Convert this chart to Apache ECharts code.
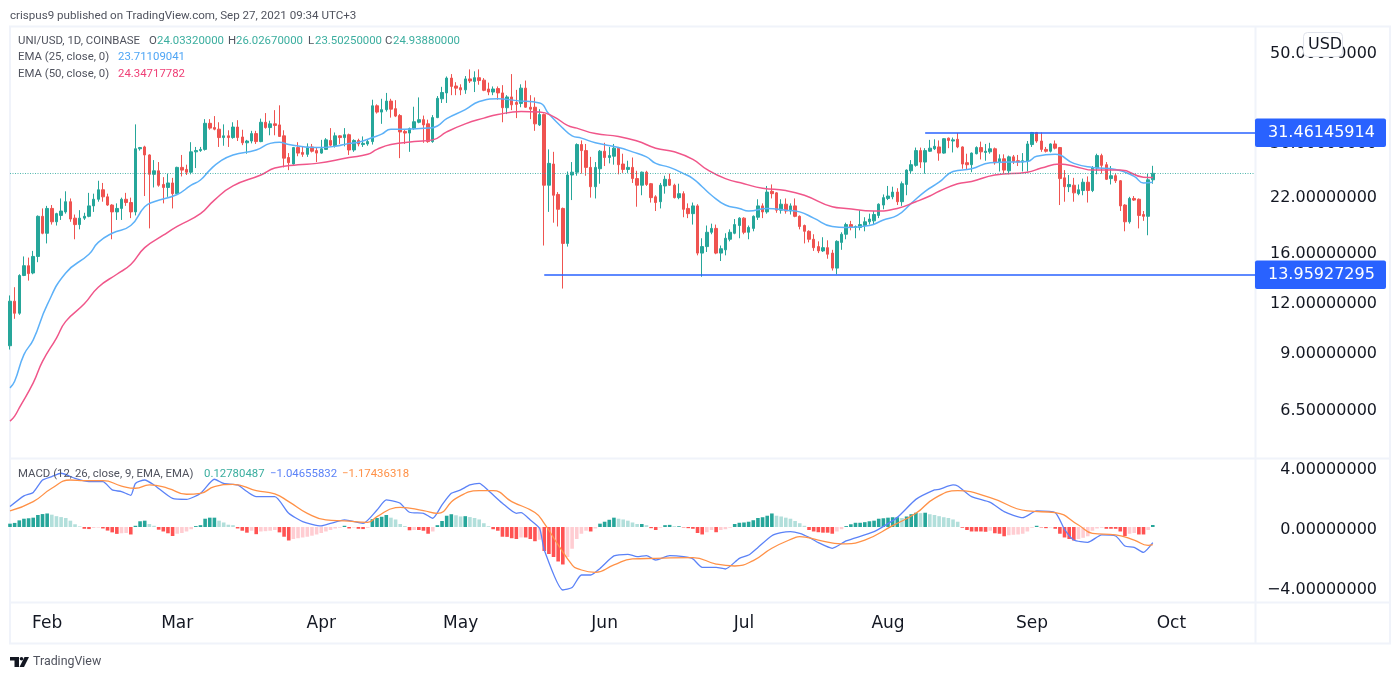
<!DOCTYPE html>
<html><head><meta charset="utf-8">
<style>html,body{margin:0;padding:0;background:#fff}#c{width:1400px;height:679px}</style>
<script src="https://cdn.jsdelivr.net/npm/echarts@6/dist/echarts.min.js"></script>
</head><body><div id="c"></div>
<script>
const opens=[
9.3,12.0,11.2,13.9,14.7,14.1,15.5,19.5,17.7,20.4,
18.9,19.6,20.0,21.2,19.3,18.6,19.3,19.5,20.7,21.5,
22.7,21.8,20.8,20.0,20.4,21.5,21.1,20.0,28.7,29.0,
27.7,24.8,25.3,23.4,23.0,23.6,22.2,25.8,25.5,25.1,
28.2,28.4,28.6,33.2,32.4,32.1,30.6,30.9,30.6,32.5,
30.7,29.7,30.0,31.3,29.9,33.4,32.4,33.1,32.9,30.9,
27.3,26.3,28.9,28.1,27.8,29.0,28.4,28.0,28.6,30.1,
29.2,30.9,30.6,31.1,28.5,30.1,29.4,29.5,29.9,36.7,
35.4,35.9,37.7,36.1,34.7,31.7,31.4,32.2,33.4,33.9,
33.1,29.9,34.3,38.2,39.5,43,41.1,40.7,40.2,42.8,
42.2,43.1,42.5,40.4,39.7,40.5,39.5,36.3,38.6,37.4,
37.2,40.6,36.4,36.4,32.9,34.9,23.3,26.3,22.1,20.4,
16.7,24.7,25.1,29.4,28.4,25.8,23.1,25.6,28.3,27.3,
27.5,28.8,26.3,25.5,25.8,24.2,23.3,25.1,23.5,21.8,
21.2,23.2,24.1,23.3,21.7,22.2,20.4,19.8,20.7,15.8,
16.4,17.8,18.2,15.8,16.1,17.1,17.7,18.5,19.3,17.8,
18.2,19.4,20.7,20.0,22.5,22.3,20.2,20.9,20.1,20.7,
19.5,18.5,17.9,17.1,16.4,16.0,16.3,15.8,14.5,16.8,
17.6,18.6,18.3,18.3,18.5,18.9,19,19.6,20.8,21.6,
21.8,22.4,21.2,23.4,25.3,26.1,28.4,26.6,28.3,28.7,
29,28,30.5,30.0,30.3,29,26.5,26.2,27.9,28.9,
28.1,28.2,28.7,26.5,27.1,25.3,27.4,26.8,26.6,26.7,
29.4,31.5,30,28.6,28.3,29.5,28.9,24.3,23.1,23.3,
22.2,22.6,23.7,22.6,25.7,27.6,26.2,24.2,24.6,23.9,
20.8,18.9,21.6,21.5,19.7,19.5,24.03];
const closes=[
12.0,11.2,13.9,14.7,14.05,15.5,19.5,17.7,20.4,18.9,
19.8,20.1,21.2,19.2,18.6,19.3,19.5,20.7,21.5,22.7,
21.8,20.8,20.0,20.4,21.5,21.1,20.0,28.7,28.9,27.7,
24.8,25.3,23.3,23.0,23.6,22.2,25.8,25.4,25.1,28.2,
28.4,28.6,33.2,32.3,32.1,30.6,30.9,30.6,32.5,30.6,
29.7,30.0,31.3,29.9,33.4,32.4,33.1,32.8,30.8,27.2,
26.5,28.9,28.0,27.8,29.0,28.3,28.0,28.7,30.2,29.3,
30.9,30.6,31.1,28.5,30.1,29.5,29.6,29.9,36.7,35.4,
35.9,37.7,36,34.6,31.6,31.4,32.2,33.5,33.9,32.9,
29.9,34.3,38.3,39.6,43,41,40.6,40.2,42.8,42.3,
43.1,42.4,40.1,39.7,40.4,39.5,36.3,38.6,36.9,37,
40.6,36.4,36,33.1,34.9,23.3,26.4,22,20.3,16.7,
24.7,25.1,29.4,28.4,25.8,23.1,25.8,28.3,27.3,27.6,
28.8,26.2,25.5,25.8,24.2,23.3,25.1,23.4,21.7,21.1,
23.3,24.1,23.3,21.7,22.2,20.3,19.8,20.7,15.8,16.4,
17.8,18.2,15.8,16.2,17.2,17.8,18.6,19.3,17.8,18.3,
19.5,20.7,20,22.4,22.2,20.2,20.9,20.1,20.7,19.5,
18.4,17.9,17.1,16.3,16,16.3,15.7,14.5,16.9,17.6,
18.6,18.3,18.4,18.6,18.9,19.2,19.7,20.9,21.7,21.9,
22.4,21.2,23.5,25.4,26.2,28.4,26.6,28.4,28.8,29.1,
28,30.4,30.1,30.2,29,26.3,26.2,28,28.9,28.2,
28.3,28.7,26.5,27.1,25.4,27.4,26.7,26.6,26.8,29.5,
31.5,30,28.6,28.3,29.5,28.8,24.2,23.1,23.4,22.3,
22.7,23.7,22.6,25.7,27.6,26.1,24.1,24.6,23.9,20.7,
18.9,21.6,21.4,19.6,19.5,24.03,24.94];
const lows=[
9.1,10.85,11.1,13.85,13.5,14.0,15.0,17.6,16.7,18.6,
18.5,19.1,19.8,18.9,17.1,18.1,19.1,19.4,20.0,21.2,
21.2,20.7,17.1,19.1,19.1,20.7,19.3,19.6,28.4,21.9,
18.2,23.0,23.1,21.0,21.8,20.4,22.1,24.5,24.7,24.8,
25.7,28.2,28.4,32.0,31.9,29.0,29.2,29,30.4,30,
29.3,27.9,29.6,29.5,29.8,32.2,31,31,30.7,25.8,
25.4,26.2,27.5,27.4,27.4,28.1,26.6,27.9,28.5,29.1,
28.9,29.5,29.1,27.7,28.2,29.1,29,29.2,29.4,35.1,
33.1,35.5,34.3,34.4,27.2,29.5,28.2,32,33.2,29.7,
29.7,29.7,34.2,37.3,37.3,39,39,39,39.3,41.8,
39.7,41.4,39.9,39,39,38,33.4,35,35.8,34.2,
36.4,36.3,34,31.8,32.7,16.5,20,18.8,18.4,12.9,
16.4,21.4,24.6,24.9,24.6,21.7,21.6,23.5,26,26.4,
26.2,24.8,25,25,23.6,20.6,22,23.2,21.1,20.1,
20.4,22.2,23.2,21.6,21.5,19.4,19.3,18.6,15.6,13.8,
15.9,17.6,15.7,15.1,15.6,16.9,17.6,17.2,17.6,17.1,
17.9,19.1,19.3,19.8,21.6,19.9,19.8,19.8,19.7,19.4,
18.1,16.7,16.8,16,15.8,15.9,15.3,14.3,14,16.1,
17.1,18,17.2,18,17.9,18.6,18.6,19.3,20.3,21.4,
21.5,20.8,20.7,22,24.9,25.9,25.7,24.9,28.2,28.5,
26.8,27.9,28.8,28.1,28.8,25.6,25.5,25.1,27.8,27,
26.8,27.9,26.2,25.2,24.9,24.8,26.3,26,25.2,25.2,
29,29.7,28.2,28.1,28.1,28.6,20.8,21.2,22.4,21.2,
22,22,21.1,22.4,24.8,24.9,24,23.4,23.6,20.1,
17.9,18.7,21.3,18.2,19,17.5,23.5];
const highs=[
12.4,13,14,15.5,15.4,16,19.6,20.4,20.7,20.8,
19.9,21.6,22.5,21.6,19.7,20.2,19.9,22.3,22.2,23.9,
23.6,22.2,20.9,21,21.7,22.3,21.7,33,29,29.2,
27.8,26.9,26.6,24.4,24.9,24.3,25.9,27.7,26.2,29.8,
29,29,34,34,34.6,33.4,33,31.9,33.4,33.8,
32,30.2,31.8,31.8,34.1,35.2,33.7,35.8,36.8,31.9,
28,29,29.8,29.1,29.6,29.5,28.9,30.2,30.5,32.3,
31.5,31,32.3,31.3,30.3,30.4,30.8,30.2,38,37,
38.2,39.5,38.2,37.9,35,32,32.4,36.5,38.5,34.7,
33.9,34.8,38.8,40.9,43.4,44,42,41.5,43.5,45.2,
44.7,45.2,43,41.9,41,41,41.3,39,44,40.2,
41.5,42.4,39,38.5,36,35.1,28.6,28.2,22.4,20.5,
25.2,26.6,29.6,30.1,29.5,27.4,26.6,28.5,29.7,29,
29.5,29,27.9,26.8,27.3,25.3,25.2,25.3,23.6,22,
23.6,24.6,24.9,23.5,23.5,22.5,21,21.1,20.9,17.2,
18.5,18.7,18.6,16.5,17.7,18.1,19.2,19.4,19.4,18.5,
19.6,21.5,21,23.2,23.4,22.4,21.5,21.6,21,21.6,
19.6,18.6,18,17.6,16.9,17.3,17,16.1,17,17.8,
18.8,19,18.5,20.2,19.4,19.8,20.1,21,22.1,23.2,
23.1,22.9,23.8,25.5,26.9,28.9,28.9,28.8,30.2,30.3,
30.1,30.5,30.6,30.6,31.4,29.1,27.9,28.1,29.1,29.9,
29.5,29.7,28.9,27.8,27.8,27.6,27.7,27.7,28,30,
31.6,31.6,31.5,29,29.6,30.1,29,25.4,24.7,24.3,
23.4,24.2,24.5,26,27.9,27.9,26.6,26,24.9,24,
20.9,21.8,21.9,21.6,20.1,24.9,26.03];
const histogram=[
.22,.27,.44,.55,.58,.62,.8,.86,.9,.82,
.72,.66,.6,.42,.18,.04,-.12,-.14,-.06,-.04,
-.1,-.24,-.36,-.46,-.42,-.4,-.5,.08,.38,.42,
.2,.08,-.18,-.3,-.42,-.6,-.45,-.4,-.3,-.15,
.06,.12,.55,.62,.62,.42,.3,.15,.12,-.1,
-.25,-.38,-.25,-.48,-.3,-.28,-.25,-.2,-.36,-.65,
-.9,-.8,-.75,-.7,-.65,-.58,-.5,-.4,-.3,-.2,
-.1,-.05,.08,-.1,-.04,-.12,-.14,-.06,.52,.6,
.68,.8,.62,.5,.2,.06,-.22,-.2,-.2,-.25,
-.45,-.3,.12,.4,.75,.85,.78,.7,.72,.66,
.6,.5,.25,.05,-.15,-.25,-.65,-.66,-.75,-.8,
-.7,-.7,-.8,-.95,-.85,-1.6,-1.8,-2.0,-2.3,-2.5,
-2.0,-1.45,-.8,-.45,-.25,-.3,-.1,.22,.35,.48,
.62,.55,.5,.42,.3,.2,.2,.12,-.08,-.2,
-.05,.12,.14,.05,.05,-.03,-.08,-.12,-.4,-.5,
-.35,-.2,-.35,-.2,-.15,-.05,.2,.28,.3,.35,
.45,.6,.65,.75,.9,.75,.7,.62,.55,.4,
.25,.08,-.2,-.3,-.35,-.38,-.38,-.45,-.3,-.15,
.06,.18,.28,.28,.32,.38,.42,.55,.58,.62,
.65,.65,.6,.7,.85,.95,.92,.95,.85,.8,
.72,.65,.6,.5,.35,-.05,-.2,-.3,-.3,-.3,
-.32,-.25,-.42,-.45,-.62,-.55,-.52,-.5,-.45,-.3,
-.05,.08,-.03,-.08,-.03,-.12,-.45,-.7,-.8,-.9,
-.8,-.72,-.62,-.25,-.1,-.05,-.12,-.12,-.12,-.3,
-.6,-.45,-.4,-.5,-.5,-.2,.13];

const ema25Days=[0,1,3,5,8,12,17,19,22,26,29,31,36,39,41,43,45,48,53,56,58,60,66,70,73,75,78,80,82,85,90,92,94,98,101,105,109,114,116,119,121,123,126,131,134,137,139,142,145,147,149,151,154,157,159,163,167,170,173,177,180,185,188,191,194,197,200,203,207,211,219,221,225,229,233,238,242,244,246];
const ema25Values=[7.31,7.59,8.84,9.62,11.75,14.1,15.7,16.8,17.7,18.5,20.6,21.2,22.1,23.3,24,25.4,26.6,27.7,28.5,29.6,29.8,29.4,28.9,29.1,29.6,29.8,30.6,31.2,32.1,32.1,32.3,32.7,34.1,35.9,37.6,38.2,37.8,37.3,35,32.3,30.9,30.5,29.7,28.9,28.2,27.4,26.4,25.8,24.9,24.2,23.1,22,20.8,20.4,20.1,20.4,20.2,20,19.3,18.4,18.3,18.5,19.1,19.6,21,22.5,23.7,25.2,25.6,26.5,26.7,27.5,27.8,26.4,25.8,25.5,24.5,23.6,23.71];
const ema50Days=[0,1,2,5,7,10,12,16,19,23,26,29,33,36,41,44,48,54,57,62,66,73,77,79,82,87,91,94,98,102,105,110,114,117,120,122,126,131,135,139,143,147,150,154,158,162,167,171,177,180,186,191,195,198,200,204,207,212,219,222,226,230,233,239,244,246];
const ema50Values=[6.04,6.22,6.52,7.52,8.5,9.72,10.69,11.82,13,14,14.8,16.3,17.5,18.4,19.8,21.4,23.2,24.7,25.7,26.2,26.4,27.3,27.8,28.6,29.4,29.9,30.2,31.6,33.1,34.2,34.9,35.5,35.4,34.5,32.8,32.3,31.3,30.8,30,28.8,28.2,27,25.5,24.2,23.5,22.9,22.6,22,20.6,20.4,20.1,20.4,21.2,21.9,22.5,23.5,23.8,24.7,25.1,25.7,26.3,25.8,25.4,25.4,24.4,24.35];
const macdDays=[0,3,5,7,9,11,14,17,20,22,24,26,27,29,31,35,38,41,44,46,49,51,53,57,60,63,67,69,72,76,79,81,83,84,86,89,91,93,95,97,99,101,103,106,109,110,112,114,115,119,121,123,125,127,130,133,135,137,139,142,145,147,149,152,154,157,159,161,164,166,168,170,172,174,177,180,186,191,195,199,200,203,204,207,211,214,218,221,225,227,229,232,235,238,240,242,244,246];
const macdValues=[1.36,2.07,2.3,3.13,3.36,3.58,3.24,3.02,3.02,2.47,2.36,2.11,2.9,3.13,2.8,1.9,1.84,2.24,3.18,2.9,2.8,2.36,2.02,2.02,.91,.36,.07,.24,.47,.24,1.13,1.8,1.69,1.58,.98,.91,.58,1.47,2.24,2.47,2.8,2.91,2.42,1.58,.91,.96,.47,-.09,-1.53,-4.2,-4.04,-3.2,-3.2,-2.76,-1.93,-1.82,-1.98,-1.91,-2.2,-1.91,-1.98,-2.13,-2.69,-2.69,-2.8,-2.09,-1.87,-1.36,-.58,-.38,-.31,-.42,-.69,-1.04,-1.42,-.93,-.31,.64,1.84,2.47,2.51,2.8,2.73,2.02,1.64,1.02,.62,1.07,.96,-.16,-.87,-1.02,-.53,-.6,-1.27,-1.36,-1.69,-1.05];
const signalDays=[0,5,9,13,16,20,24,27,30,34,38,41,44,48,53,57,60,64,68,72,77,79,83,84,89,92,96,101,104,108,113,115,118,121,122,126,130,134,139,147,152,156,160,164,169,170,174,179,184,190,195,199,204,211,219,225,230,233,238,242,245,246];
const signalValues=[1.07,1.69,2.58,3.13,3.09,3.09,2.73,2.58,2.8,2.58,2.18,2.24,2.69,2.84,2.42,2.2,1.69,.91,.47,.4,.31,.69,1.29,1.31,1.09,.91,1.91,2.42,2.42,1.69,.96,.24,-1.2,-2.53,-2.76,-3.02,-2.53,-2.13,-2.09,-2.04,-2.47,-2.6,-2.24,-1.42,-.71,-.64,-.87,-1.13,-.87,.09,.91,1.91,2.42,1.96,1.07,.96,.13,-.42,-.53,-.87,-1.22,-1.17];

const monthStarts={'2021-02-01':'Feb','2021-03-01':'Mar','2021-04-01':'Apr','2021-05-01':'May','2021-06-01':'Jun','2021-07-01':'Jul','2021-08-01':'Aug','2021-09-01':'Sep','2021-10-01':'Oct'};
const priceTicks=[6.5,9,12,16,22,30,50];
const macdTicks=[-4,0,4];
const resistance=31.46145914, support=13.95927295, lastClose=24.9388;
const resistanceStart=197, supportStart=115;

const dayCount=269;
const days=[];
for(let i=0;i<dayCount;i++){
  const d=new Date(Date.UTC(2021,0,24+i));
  days.push(d.toISOString().slice(0,10));
}
const candleData=opens.map((o,i)=>[o,closes[i],lows[i],highs[i]]);
const pairs=(xs,ys)=>xs.map((x,i)=>[x,ys[i]]);
const UP='#26a69a',DOWN='#ef5350',TAG='#2962ff',INK='#131722',FRAME='#f0f3fa';
const SANS='"DejaVu Sans"',UI='Roboto';
const hColor=(i)=>{
  const v=histogram[i],p=i?histogram[i-1]:0;
  if(v>=0) return v>=p?'#26a69a':'#b2dfdb';
  return v<=p?'#ff5252':'#ffcdd2';
};
const tag=(v)=>({yAxis:v,
  lineStyle:{color:TAG,width:1.6,type:'solid'},
  label:{show:true,position:'end',distance:0,formatter:v.toFixed(8),color:'#fff',fontFamily:SANS,fontSize:16,
    backgroundColor:TAG,borderRadius:2,padding:[1,10,0,13],lineHeight:27.5,width:108,align:'left'}});
const FONT='11.4px '+UI;
const lab=(x,y,text,fill)=>({type:'text',left:x,top:y,z:20,silent:true,style:{text,font:FONT,fill}});
const DIM='#50535e',GRN='#3bae9f';
const lineBox=(x1,y1,x2,y2)=>({type:'line',z:1,silent:true,shape:{x1,y1,x2,y2},style:{stroke:FRAME,lineWidth:2}});

const chart=echarts.init(document.getElementById('c'),null,{renderer:'canvas'});
chart.setOption({
  animation:false,
  backgroundColor:'#fff',
  grid:[{left:10,right:145,top:27,height:431},{left:10,right:145,top:459,height:143}],
  xAxis:[
    {type:'category',gridIndex:0,data:days,boundaryGap:false,axisLine:{show:false},axisTick:{show:false},axisLabel:{show:false},splitLine:{show:false}},
    {type:'category',gridIndex:1,data:days,boundaryGap:false,axisLine:{show:false},axisTick:{show:false},splitLine:{show:false},
      axisLabel:{show:true,interval:(i,v)=>!!monthStarts[v],formatter:(v)=>monthStarts[v]||'',color:INK,fontFamily:SANS,fontSize:17,margin:13,hideOverlap:false}}
  ],
  yAxis:[
    {type:'log',logBase:Math.E,gridIndex:0,position:'right',min:4.893,max:57.6,axisLine:{show:false},axisTick:{show:false},splitLine:{show:false},
      axisLabel:{show:true,customValues:priceTicks,formatter:(v)=>Number(v).toFixed(8),color:INK,fontFamily:SANS,fontSize:16,margin:122,align:'right',verticalAlign:'top',lineHeight:5}},
    {type:'value',gridIndex:1,position:'right',min:-5,max:4.53,axisLine:{show:false},axisTick:{show:false},splitLine:{show:false},
      axisLabel:{show:true,customValues:macdTicks,formatter:(v)=>Number(v).toFixed(8).replace('-','\u2212'),color:INK,fontFamily:SANS,fontSize:16,margin:122,align:'right',verticalAlign:'top',lineHeight:5}}
  ],
  series:[
    {type:'candlestick',name:'UNI/USD',xAxisIndex:0,yAxisIndex:0,data:candleData,barWidth:3,z:3,
      itemStyle:{color:UP,color0:DOWN,borderColor:UP,borderColor0:DOWN,borderWidth:1},
      markLine:{silent:true,symbol:'none',animation:false,z:6,precision:8,
        data:[
          [{xAxis:0,yAxis:lastClose,lineStyle:{color:UP,width:1,type:[1,1.5],opacity:.8},label:{show:false}},{xAxis:dayCount-1,yAxis:lastClose}],
          [{xAxis:resistanceStart,...tag(resistance)},{xAxis:dayCount-1,yAxis:resistance}],
          [{xAxis:supportStart,...tag(support)},{xAxis:dayCount-1,yAxis:support}]
        ]}},
    {type:'line',name:'EMA 25',xAxisIndex:0,yAxisIndex:0,data:pairs(ema25Days,ema25Values),showSymbol:false,smooth:.5,lineStyle:{color:'#5db1f8',width:1.5},z:4},
    {type:'line',name:'EMA 50',xAxisIndex:0,yAxisIndex:0,data:pairs(ema50Days,ema50Values),showSymbol:false,smooth:.5,lineStyle:{color:'#f0568a',width:1.5},z:4},
    {type:'bar',name:'Histogram',xAxisIndex:1,yAxisIndex:1,barWidth:3.6,z:2,
      data:histogram.map((v,i)=>({value:v,itemStyle:{color:hColor(i)}}))},
    {type:'line',name:'MACD',xAxisIndex:1,yAxisIndex:1,data:pairs(macdDays,macdValues),showSymbol:false,smooth:.2,lineStyle:{color:'#5b82f7',width:1.3},z:4},
    {type:'line',name:'Signal',xAxisIndex:1,yAxisIndex:1,data:pairs(signalDays,signalValues),showSymbol:false,smooth:.5,lineStyle:{color:'#ff9147',width:1.3},z:5}
  ],
  graphic:[
    {type:'rect',z:1,silent:true,shape:{x:10,y:26.5,width:1380,height:617},style:{fill:'none',stroke:FRAME,lineWidth:2}},
    lineBox(1255.5,27,1255.5,644),
    lineBox(10,458.5,1390,458.5),
    lineBox(10,602.5,1390,602.5),
    {type:'text',left:10,top:10,z:20,silent:true,style:{text:'crispus9 published on TradingView.com, Sep 27, 2021 09:34 UTC+3',font:'11.6px '+UI,fill:DIM}},
    lab(18,35.5,'UNI/USD, 1D, COINBASE',DIM),
    lab(149,35.5,'O',DIM),lab(157,35.5,'24.03320000',GRN),
    lab(228,35.5,'H',DIM),lab(236,35.5,'26.02670000',GRN),
    lab(308,35.5,'L',DIM),lab(315,35.5,'23.50250000',GRN),
    lab(385,35.5,'C',DIM),lab(393,35.5,'24.93880000',GRN),
    lab(18,52,'EMA (25, close, 0)',DIM),lab(118,52,'23.71109041','#4ea5f5'),
    lab(18,68.5,'EMA (50, close, 0)',DIM),lab(118,68.5,'24.34717782','#ef3f76'),
    lab(18,468.5,'MACD (12, 26, close, 9, EMA, EMA)',DIM),
    lab(204,468.5,'0.12780487',GRN),
    lab(270,468.5,'\u22121.04655832','#5b82f7'),
    lab(342,468.5,'\u22121.17436318','#ff9147'),
    {type:'rect',z:30,silent:true,shape:{x:1303.5,y:32.5,width:39,height:24,r:4},style:{fill:'#fff',stroke:'#e0e3eb',lineWidth:1}},
    {type:'text',left:1308,top:37,z:31,silent:true,style:{text:'USD',font:'16px '+SANS,fill:INK}},
    {type:'polygon',z:20,silent:true,shape:{points:[[10,657],[19,657],[19,667],[14.5,667],[14.5,660.5],[10,660.5]]},style:{fill:INK}},
    {type:'circle',z:20,silent:true,shape:{cx:21.5,cy:658.8,r:1.8},style:{fill:INK}},
    {type:'polygon',z:20,silent:true,shape:{points:[[24.5,657],[29,657],[24,667],[19.5,667]]},style:{fill:INK}},
    {type:'text',left:33,top:656,z:20,silent:true,style:{text:'TradingView',font:'12.4px '+UI,fill:DIM}}
  ]
});
</script></body></html>
